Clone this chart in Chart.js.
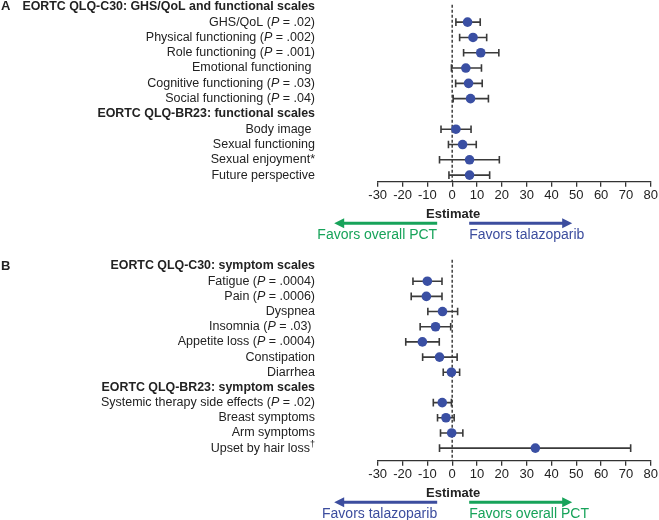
<!DOCTYPE html>
<html>
<head>
<meta charset="utf-8">
<script src="https://cdn.jsdelivr.net/npm/chart.js@4/dist/chart.umd.min.js"></script>
<style>
  body { margin: 0; background: #fff; width: 659px; height: 520px; position: relative; overflow: hidden; }
  canvas { position: absolute; left: 0; }
  #chartA { top: 0; }
  #chartB { top: 255px; }
</style>
</head>
<body>
<canvas id="chartA" width="659" height="258"></canvas>
<canvas id="chartB" width="659" height="265"></canvas>
<script>
// Panel A: GHS/QoL and functional scales (null estimate = section header)
const labelsA = ['EORTC QLQ-C30: GHS/QoL and functional scales', 'GHS/QoL (P = .02)', 'Physical functioning (P = .002)',
  'Role functioning (P = .001)', 'Emotional functioning ', 'Cognitive functioning (P = .03)', 'Social functioning (P = .04)',
  'EORTC QLQ-BR23: functional scales', 'Body image ', 'Sexual functioning', 'Sexual enjoyment*', 'Future perspective'];
const estA = [null, 6.2, 8.4, 11.5, 5.5, 6.6, 7.4, null, 1.5, 4.2, 7.0, 7.0];
const lowA = [null, 1.5, 3.0, 4.6, -0.3, 1.4, 0.4, null, -4.5, -1.5, -5.1, -1.3];
const highA = [null, 11.3, 13.9, 18.8, 11.8, 12.1, 14.6, null, 7.6, 9.7, 19.0, 15.1];

// Panel B: symptom scales
const labelsB = ['EORTC QLQ-C30: symptom scales', 'Fatigue (P = .0004)', 'Pain (P = .0006)', 'Dyspnea',
  'Insomnia (P = .03) ', 'Appetite loss (P = .0004)', 'Constipation', 'Diarrhea',
  'EORTC QLQ-BR23: symptom scales', 'Systemic therapy side effects (P = .02)', 'Breast symptoms', 'Arm symptoms', 'Upset by hair loss†'];
const estB = [null, -10.0, -10.4, -3.9, -6.7, -12.0, -5.1, -0.3, null, -4.0, -2.5, -0.2, 33.5];
const lowB = [null, -15.8, -16.5, -9.8, -12.9, -18.7, -11.9, -3.6, null, -7.6, -5.9, -4.7, -5.1];
const highB = [null, -4.1, -4.1, 2.2, -0.6, -5.2, 2.0, 3.0, null, -0.3, 0.8, 4.3, 71.9];

const xTicks = [-30, -20, -10, 0, 10, 20, 30, 40, 50, 60, 70, 80];
const axisTitle = 'Estimate';
const favorsPCT = 'Favors overall PCT';
const favorsTala = 'Favors talazoparib';

const FONT = '"Liberation Sans", Arial, sans-serif';
const DOT = '#3a4fa3';
const BAR = '#3a3a3a';
const TEXT = '#222';
const GREEN = '#17a35a';
const BLUE = '#3c4d9e';
const LABEL_RIGHT = 315;

// draws a row label, right aligned, with an italic P when present
function drawLabel(ctx, text, xRight, y, bold) {
  ctx.textBaseline = 'middle';
  ctx.textAlign = 'left';
  const size = bold ? 12.4 : 12.5;
  const normal = (bold ? 'bold ' : '') + size + 'px ' + FONT;
  const italic = 'italic ' + size + 'px ' + FONT;
  const small = '9px ' + FONT;
  let parts = [];
  const m = text.match(/^(.*\()P( = .*)$/);
  if (m) {
    parts = [[m[1], normal, 0], ['P', italic, 0], [m[2], normal, 0]];
  } else if (text.endsWith('†')) {
    parts = [[text.slice(0, -1), normal, 0], ['†', small, -4]];
  } else {
    parts = [[text, normal, 0]];
  }
  let total = 0;
  parts.forEach(p => { ctx.font = p[1]; p.push(ctx.measureText(p[0]).width); total += p[3]; });
  let x = xRight - total;
  ctx.fillStyle = TEXT;
  parts.forEach(p => { ctx.font = p[1]; ctx.fillText(p[0], x, y + p[2]); x += p[3]; });
}

function drawArrow(ctx, x1, x2, y, color) {
  const dir = Math.sign(x2 - x1);
  ctx.strokeStyle = color;
  ctx.fillStyle = color;
  ctx.lineWidth = 3;
  ctx.beginPath();
  ctx.moveTo(x1, y);
  ctx.lineTo(x2 - dir * 8, y);
  ctx.stroke();
  ctx.beginPath();
  ctx.moveTo(x2, y);
  ctx.lineTo(x2 - dir * 10, y - 5);
  ctx.lineTo(x2 - dir * 10, y + 5);
  ctx.closePath();
  ctx.fill();
}

const forestPlugin = {
  id: 'forest',
  beforeDatasetsDraw(chart, args, opts) {
    const ctx = chart.ctx;
    const xs = chart.scales.x, ys = chart.scales.y;
    const area = chart.chartArea;
    ctx.save();
    // reference line at zero
    ctx.strokeStyle = '#222';
    ctx.lineWidth = 1.3;
    ctx.setLineDash([3, 2]);
    ctx.beginPath();
    ctx.moveTo(xs.getPixelForValue(0), area.top);
    ctx.lineTo(xs.getPixelForValue(0), area.bottom);
    ctx.stroke();
    ctx.setLineDash([]);
    // confidence intervals
    ctx.strokeStyle = BAR;
    ctx.lineWidth = 1.6;
    opts.est.forEach((v, i) => {
      if (v === null) return;
      const y = ys.getPixelForValue(i);
      const a = xs.getPixelForValue(opts.low[i]);
      const b = xs.getPixelForValue(opts.high[i]);
      ctx.beginPath();
      ctx.moveTo(a, y); ctx.lineTo(b, y);
      ctx.moveTo(a, y - 3.8); ctx.lineTo(a, y + 3.8);
      ctx.moveTo(b, y - 3.8); ctx.lineTo(b, y + 3.8);
      ctx.stroke();
    });
    ctx.restore();
  },
  afterDraw(chart, args, opts) {
    const ctx = chart.ctx;
    const xs = chart.scales.x, ys = chart.scales.y;
    const area = chart.chartArea;
    ctx.save();
    opts.labels.forEach((t, i) => {
      drawLabel(ctx, t, LABEL_RIGHT, ys.getPixelForValue(i), opts.est[i] === null);
    });
    ctx.font = 'bold 13px ' + FONT;
    ctx.fillStyle = TEXT;
    ctx.textAlign = 'left';
    ctx.fillText(opts.panel, 1, ys.getPixelForValue(0));
    // axis title and direction arrows
    const x0 = xs.getPixelForValue(0);
    ctx.textAlign = 'center';
    ctx.fillText(axisTitle, x0 + 1, area.bottom + 32.5);
    const yA = area.bottom + 41.5;
    drawArrow(ctx, x0 - 15, x0 - 118, yA, opts.leftColor);
    drawArrow(ctx, x0 + 17, x0 + 120, yA, opts.rightColor);
    ctx.font = '14px ' + FONT;
    ctx.textAlign = 'right';
    ctx.fillStyle = opts.leftColor;
    ctx.fillText(opts.leftText, x0 - 15, yA + 12);
    ctx.textAlign = 'left';
    ctx.fillStyle = opts.rightColor;
    ctx.fillText(opts.rightText, x0 + 17, yA + 12);
    ctx.restore();
  }
};

function makeForest(id, labels, est, low, high, cfg) {
  const points = [];
  est.forEach((v, i) => { if (v !== null) points.push({ x: v, y: i }); });
  return new Chart(document.getElementById(id), {
    type: 'scatter',
    data: {
      datasets: [{
        data: points,
        backgroundColor: DOT,
        borderColor: DOT,
        borderWidth: 0,
        pointRadius: 4.8,
        pointHoverRadius: 4.8
      }]
    },
    options: {
      responsive: false,
      animation: false,
      events: [],
      layout: { padding: { left: 377.7, right: 7.3, top: cfg.top, bottom: 0 } },
      plugins: {
        legend: { display: false },
        tooltip: { enabled: false },
        forest: {
          labels: labels, est: est, low: low, high: high, panel: cfg.panel,
          leftColor: cfg.leftColor, rightColor: cfg.rightColor,
          leftText: cfg.leftText, rightText: cfg.rightText
        }
      },
      scales: {
        x: {
          type: 'linear',
          min: xTicks[0],
          max: xTicks[xTicks.length - 1],
          afterBuildTicks: s => { s.ticks = xTicks.map(v => ({ value: v })); },
          afterFit: s => { s.height = cfg.axisH; },
          ticks: { color: TEXT, font: { size: 13, family: FONT }, padding: 1, maxRotation: 0, autoSkip: false },
          grid: { drawOnChartArea: false, drawTicks: true, tickLength: 5, color: '#333', lineWidth: 1.3 },
          border: { color: '#333', width: 1.3 }
        },
        y: { type: 'linear', reverse: true, min: cfg.min, max: cfg.max, display: false }
      }
    },
    plugins: [forestPlugin]
  });
}

makeForest('chartA', labelsA, estA, lowA, highA, {
  panel: 'A', top: 3, axisH: 76.3, min: -0.133, max: 11.43,
  leftColor: GREEN, rightColor: BLUE, leftText: favorsPCT, rightText: favorsTala
});
makeForest('chartB', labelsB, estB, lowB, highB, {
  panel: 'B', top: 4, axisH: 59.3, min: -0.412, max: 12.83,
  leftColor: BLUE, rightColor: GREEN, leftText: favorsTala, rightText: favorsPCT
});
</script>
</body>
</html>
